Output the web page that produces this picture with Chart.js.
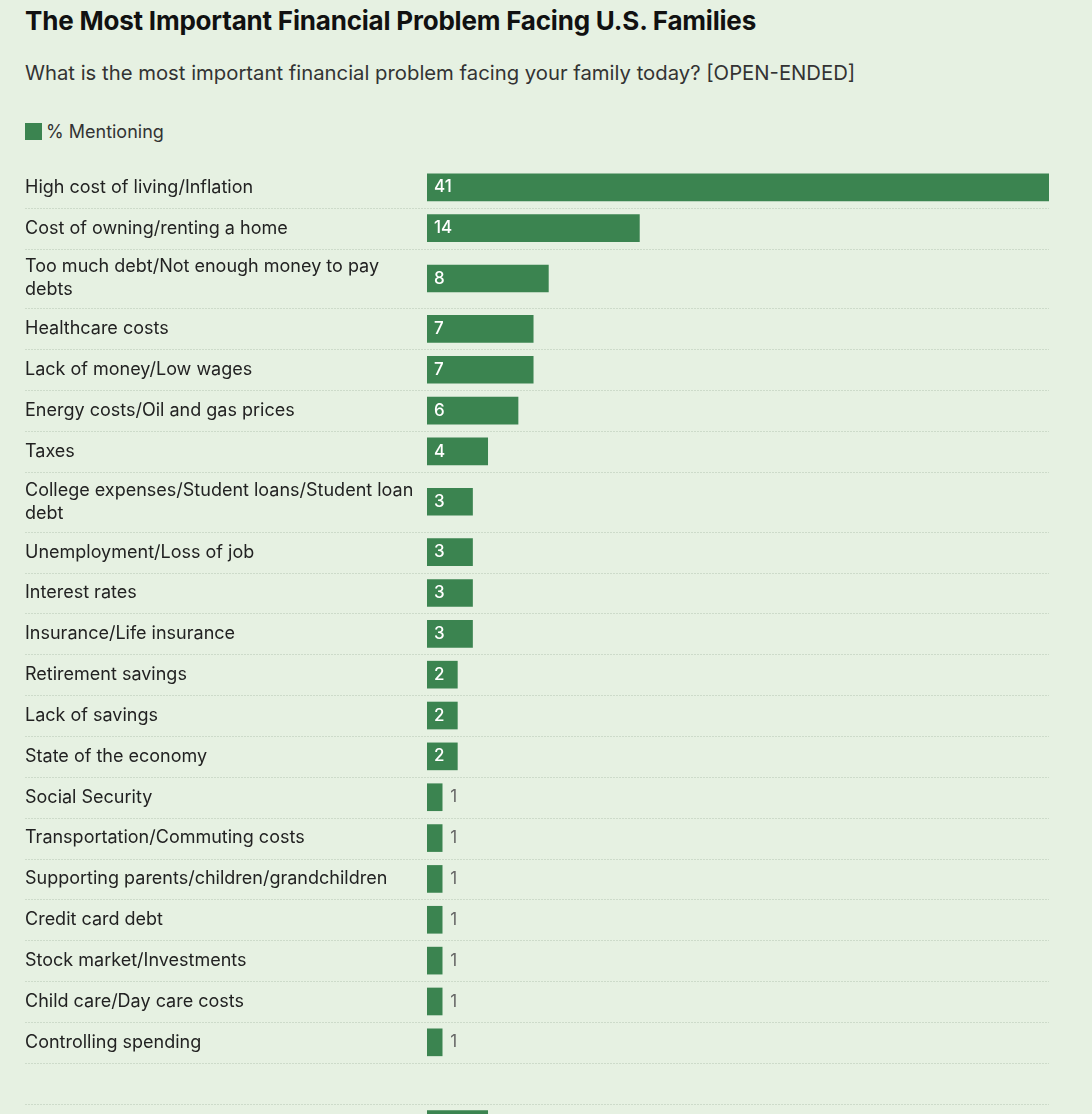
<!DOCTYPE html>
<html>
<head>
<meta charset="utf-8">
<script src="https://cdn.jsdelivr.net/npm/chart.js@4"></script>
<style>
  html, body { margin: 0; padding: 0; background: #e6f1e2; overflow: hidden; }
  body { width: 1092px; height: 1114px; position: relative; font-family: Inter, "Noto Sans", sans-serif; color: #1e1e1e; }
  #chart { position: absolute; left: 0; top: 0; }
  .title { position: absolute; left: 25px; top: 5px; font-size: 26px; font-weight: 700; color: #111; letter-spacing: -0.2px; }
  .subtitle { position: absolute; left: 25px; top: 60px; font-size: 20.3px; color: #333; }
  .legend { position: absolute; left: 25px; top: 121px; font-size: 18px; color: #333; display: flex; align-items: center; }
  .legend span.box { width: 17px; height: 17px; background: #3b8450; margin-right: 4px; display: inline-block; }
</style>
</head>
<body>
<div class="title">The Most Important Financial Problem Facing U.S. Families</div>
<div class="subtitle">What is the most important financial problem facing your family today? [OPEN-ENDED]</div>
<div class="legend"><span class="box"></span>% Mentioning</div>
<canvas id="chart" width="1092" height="1114"></canvas>
<script>
// Categories (multi-line labels as arrays), "" is an empty spacer row
const categories = [
    'High cost of living/Inflation',
    'Cost of owning/renting a home',
    ['Too much debt/Not enough money to pay', 'debts'],
    'Healthcare costs',
    'Lack of money/Low wages',
    'Energy costs/Oil and gas prices',
    'Taxes',
    ['College expenses/Student loans/Student loan', 'debt'],
    'Unemployment/Loss of job',
    'Interest rates',
    'Insurance/Life insurance',
    'Retirement savings',
    'Lack of savings',
    'State of the economy',
    'Social Security',
    'Transportation/Commuting costs',
    'Supporting parents/children/grandchildren',
    'Credit card debt',
    'Stock market/Investments',
    'Child care/Day care costs',
    'Controlling spending',
    '',
    'Other'
]
const mentioning = [41, 14, 8, 7, 7, 6, 4, 3, 3, 3, 3, 2, 2, 2, 1, 1, 1, 1, 1, 1, 1, null, 4]

const BAR_COLOR = '#3b8450'
const FIRST_ROW_TOP = 166.9
const ROW_HEIGHT = 40.85
const EXTRA_LINE = 19

// Work out each row's top/bottom from how many lines its label has
const rows = []
let rowTop = FIRST_ROW_TOP
categories.forEach((c, i) => {
    const lines = Array.isArray(c) ? c : [c]
    const h = ROW_HEIGHT + EXTRA_LINE * (lines.length - 1)
    rows.push({ lines: lines, top: rowTop, bottom: rowTop + h, center: rowTop + h / 2, value: mentioning[i] })
    rowTop += h
})

const rowPlugin = {
    id: 'rows',
    beforeDatasetsDraw(chart) {
        const ctx = chart.ctx
        const y = chart.scales.y
        const x = chart.scales.x
        ctx.save()
        ctx.strokeStyle = '#cddbca'
        ctx.lineWidth = 1
        ctx.setLineDash([2, 1])
        rows.forEach(r => {
            const yb = Math.round(y.getPixelForValue(r.bottom)) + 0.5
            ctx.beginPath()
            ctx.moveTo(25, yb)
            ctx.lineTo(x.right, yb)
            ctx.stroke()
        })
        ctx.setLineDash([])
        ctx.fillStyle = '#222'
        ctx.font = '18px Inter, "Noto Sans", sans-serif'
        ctx.textBaseline = 'middle'
        rows.forEach(r => {
            const cy = y.getPixelForValue(r.center)
            const start = cy - (r.lines.length - 1) * 23 / 2
            r.lines.forEach((l, k) => ctx.fillText(l, 25, start + k * 23))
        })
        ctx.restore()
    },
    afterDatasetsDraw(chart) {
        const ctx = chart.ctx
        const meta = chart.getDatasetMeta(0)
        ctx.save()
        ctx.font = '500 17px Inter, "Noto Sans", sans-serif'
        ctx.textBaseline = 'middle'
        meta.data.forEach((bar, i) => {
            const v = chart.data.datasets[0].data[i].x
            const w = bar.x - bar.base
            if (w > 24) {
                ctx.fillStyle = '#ffffff'
                ctx.fillText(String(v), bar.base + 7, bar.y)
            } else {
                ctx.fillStyle = '#666'
                ctx.font = '17px Inter, "Noto Sans", sans-serif'
                ctx.fillText(String(v), bar.x + 8, bar.y)
            }
        })
        ctx.restore()
    }
}

const points = rows.filter(r => r.value !== null).map(r => ({ x: r.value, y: r.center }))

new Chart(document.getElementById('chart'), {
    type: 'bar',
    data: {
        datasets: [{
            label: '% Mentioning',
            data: points,
            backgroundColor: BAR_COLOR,
            borderWidth: 0,
            barThickness: 27
        }]
    },
    options: {
        indexAxis: 'y',
        responsive: false,
        animation: false,
        layout: { padding: { left: 427, right: 43, top: 0, bottom: 0 } },
        scales: {
            x: { type: 'linear', min: 0, max: 41, display: false },
            y: { type: 'linear', min: 0, max: 1114, reverse: true, offset: false, display: false }
        },
        plugins: {
            legend: { display: false },
            tooltip: { enabled: false }
        }
    },
    plugins: [rowPlugin]
})
</script>
</body>
</html>
